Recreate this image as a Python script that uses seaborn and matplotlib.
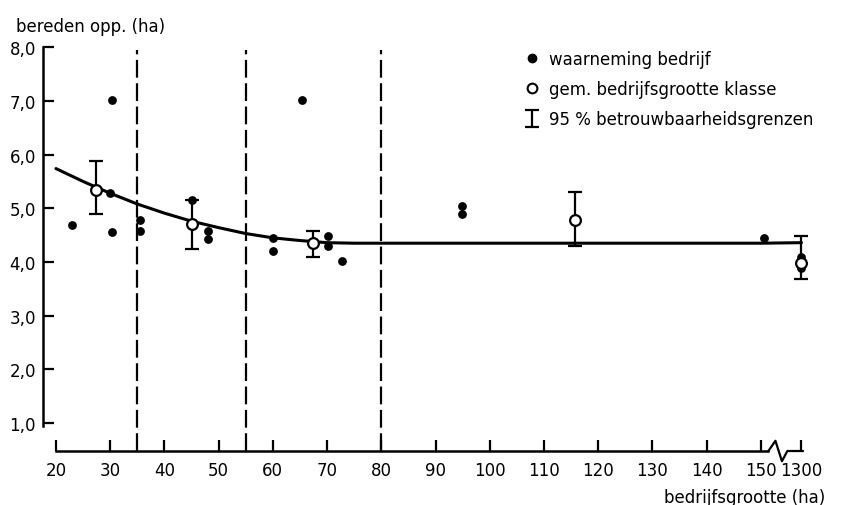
import numpy as np
import pandas as pd
import seaborn as sns
import matplotlib.pyplot as plt
from matplotlib.lines import Line2D

# waarnemingen per bedrijf (bedrijfsgrootte in ha, bereden opp. in ha)
obs_size = [22.9, 30.0, 30.4, 30.4, 35.5, 35.5, 45.0, 48.1, 48.1, 60.1, 60.1,
            65.3, 70.1, 70.1, 72.8, 94.9, 94.9, 150.5, 1300, 1300]
obs_area = [4.69, 5.28, 4.55, 7.02, 4.78, 4.58, 5.15, 4.58, 4.43, 4.44, 4.21,
            7.02, 4.48, 4.30, 4.01, 5.05, 4.89, 4.45, 4.10, 3.88]

# gemiddelde per bedrijfsgrootteklasse + 95% grenzen
class_size = [27.3, 45.0, 67.4, 115.7, 1300]
class_mean = [5.35, 4.70, 4.35, 4.79, 3.99]
class_lo = [4.89, 4.24, 4.09, 4.30, 3.68]
class_hi = [5.88, 5.15, 4.57, 5.30, 4.48]

fit_size = [20, 25, 30, 35, 40, 45, 50, 55, 60, 65, 70, 75, 80, 100, 120, 140, 150, 1300]
fit_area = [5.74, 5.50, 5.28, 5.08, 4.91, 4.76, 4.64, 4.53, 4.45, 4.40, 4.36, 4.35,
            4.35, 4.35, 4.35, 4.35, 4.35, 4.36]

class_bounds = [35, 55, 80]

x_ticks = [20, 30, 40, 50, 60, 70, 80, 90, 100, 110, 120, 130, 140, 150, 1300]
y_ticks = [1, 2, 3, 4, 5, 6, 7, 8]
y_tick_labels = ["1,0", "2,0", "3,0", "4,0", "5,0", "6,0", "7,0", "8,0"]

BREAK_POS = 157.5  # plaats van 1300 op de onderbroken as


def axis_pos(v):
    return [BREAK_POS if s > 200 else s for s in v]


sns.set_theme(style="ticks")
plt.rcParams["font.family"] = ["DejaVu Sans"]
plt.rcParams["axes.unicode_minus"] = False
plt.rcParams["text.color"] = "black"

fig = plt.figure(figsize=(8.41, 5.06), dpi=100)
ax = fig.add_axes([0.0511, 0.1067, 0.918, 0.798])

df_obs = pd.DataFrame({"pos": axis_pos(obs_size), "area": obs_area})
df_cls = pd.DataFrame({"pos": axis_pos(class_size), "mean": class_mean,
                       "lo": class_lo, "hi": class_hi})
df_fit = pd.DataFrame({"pos": axis_pos(fit_size), "area": fit_area})

ax.vlines(class_bounds, 0.48, 7.95, colors="black", linewidth=1.6,
          linestyles=(0, (8, 2.5)))

sns.lineplot(data=df_fit, x="pos", y="area", color="black", linewidth=2.2, ax=ax)

ci = ax.errorbar(df_cls["pos"], df_cls["mean"],
                 yerr=[df_cls["mean"] - df_cls["lo"], df_cls["hi"] - df_cls["mean"]],
                 fmt="none", ecolor="black", elinewidth=1.6, capsize=5, capthick=1.6)

sns.scatterplot(data=df_obs, x="pos", y="area", color="black", s=40,
                edgecolor="black", linewidth=0, ax=ax, zorder=4)
sns.scatterplot(data=df_cls, x="pos", y="mean", color="white", s=60,
                edgecolor="black", linewidth=1.6, ax=ax, zorder=5)

ax.set_xlim(17.6, 160)
ax.set_ylim(0.48, 8.0)
ax.set_xticks(axis_pos(x_ticks))
ax.set_xticklabels([str(t) for t in x_ticks])
ax.set_yticks(y_ticks)
ax.set_yticklabels(y_tick_labels)
ax.set_xlabel("")
ax.set_ylabel("")

sns.despine(ax=ax)
ax.spines["left"].set_bounds(0.95, 8.0)
ax.spines["bottom"].set_bounds(20, 151.4)
for s in ("left", "bottom"):
    ax.spines[s].set_linewidth(1.8)
    ax.spines[s].set_color("black")
ax.tick_params(axis="both", direction="in", length=8, width=1.6,
               colors="black", labelsize=12)
ax.tick_params(axis="x", pad=7)
ax.tick_params(axis="y", pad=5)

# asonderbreking tussen 150 en 1300
ax.plot([151.4, 152.7, 153.9, 154.9, 157.8], [0.48, 0.67, 0.29, 0.48, 0.48],
        color="black", linewidth=1.6, clip_on=False)

fig.text(16 / 841, 1 - 27 / 506, "bereden opp. (ha)", fontsize=12,
         ha="left", va="center", color="black")
fig.text(825 / 841, 1 - 498 / 506, "bedrijfsgrootte (ha)", fontsize=12,
         ha="right", va="center", color="black")

handles = [
    Line2D([], [], marker="o", color="black", linestyle="none", markersize=6),
    Line2D([], [], marker="o", markerfacecolor="white", markeredgecolor="black",
           markeredgewidth=1.5, linestyle="none", markersize=7),
    ci,
]
labels = ["waarneming bedrijf", "gem. bedrijfsgrootte klasse",
          "95 % betrouwbaarheidsgrenzen"]
fig.legend(handles, labels, loc="upper left",
           bbox_to_anchor=(524 / 841, 1 - 51 / 506), frameon=False,
           fontsize=12, handlelength=1.0, handletextpad=0.5,
           labelspacing=0.72, borderpad=0, borderaxespad=0)

plt.savefig("out.png", dpi=100)
plt.close()
